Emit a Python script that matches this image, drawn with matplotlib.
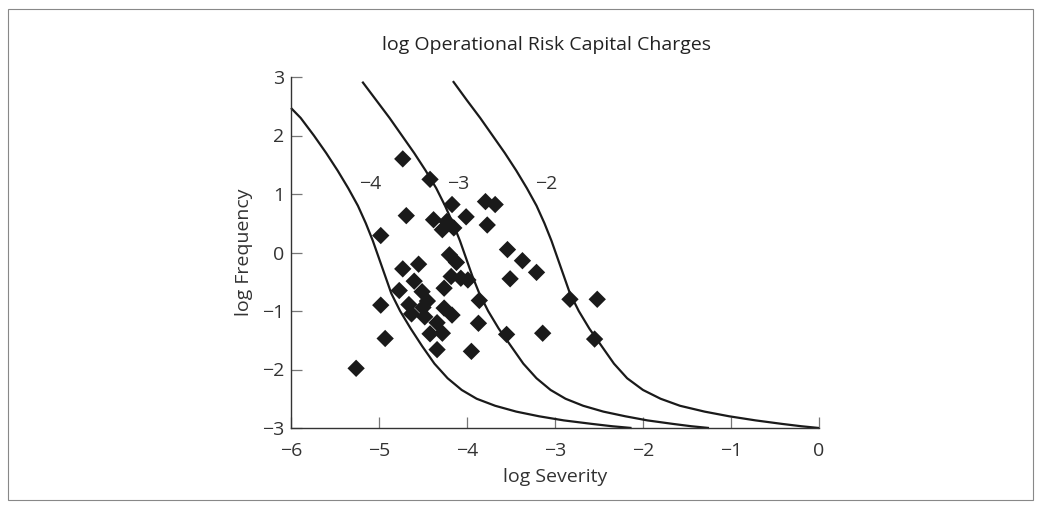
import numpy as np
import matplotlib
matplotlib.use("Agg")
import matplotlib.pyplot as plt
from matplotlib.patches import Rectangle

plt.rcParams['font.family'] = ['Open Sans', 'DejaVu Sans']

# Observed operational loss points (log severity, log frequency)
log_severity = [-4.73, -4.42, -4.17, -3.79, -3.68, -4.69, -4.38, -4.01, -4.23, -4.28,
                -4.15, -3.77, -4.98, -3.54, -3.37, -3.21, -3.51, -4.73, -4.55, -4.20,
                -4.12, -4.18, -4.07, -3.99, -4.26, -4.77, -4.60, -4.51, -4.66, -4.63,
                -4.50, -4.45, -4.48, -3.86, -4.98, -4.26, -4.17, -4.34, -3.87, -4.28,
                -4.42, -4.93, -4.34, -3.95, -3.55, -3.14, -5.26, -2.83, -2.52, -2.55]
log_frequency = [1.60, 1.25, 0.82, 0.87, 0.82, 0.63, 0.56, 0.61, 0.53, 0.39,
                 0.42, 0.47, 0.29, 0.05, -0.14, -0.34, -0.45, -0.28, -0.20, -0.04,
                 -0.17, -0.41, -0.44, -0.47, -0.61, -0.65, -0.49, -0.67, -0.89, -1.05,
                 -0.94, -0.83, -1.10, -0.82, -0.90, -0.95, -1.07, -1.20, -1.21, -1.38,
                 -1.39, -1.47, -1.66, -1.69, -1.40, -1.38, -1.98, -0.80, -0.80, -1.48]

# Iso-capital-charge lines, labelled by log capital charge
charge_levels = ["\u22124", "\u22123", "\u22122"]
curve_y = [2.47, 2.30, 2.00, 1.70, 1.40, 1.10, 0.80, 0.50, 0.20, -0.10, -0.40, -0.70,
           -1.00, -1.30, -1.60, -1.90, -2.15, -2.35, -2.50, -2.62, -2.72, -2.80,
           -2.87, -2.93, -2.97, -3.00]
curve_m4_x = [-6.00, -5.89, -5.74, -5.60, -5.47, -5.35, -5.24, -5.15, -5.07, -5.00,
              -4.93, -4.86, -4.76, -4.64, -4.51, -4.37, -4.22, -4.06, -3.89, -3.68,
              -3.44, -3.18, -2.90, -2.58, -2.35, -2.13]
curve_m3_y = [2.92, 2.60, 2.30, 2.00, 1.70, 1.40, 1.10, 0.80, 0.50, 0.20, -0.10, -0.40,
              -0.70, -1.00, -1.30, -1.60, -1.90, -2.15, -2.35, -2.50, -2.62, -2.72,
              -2.80, -2.87, -2.93, -2.97, -3.00]
curve_m3_x = [-5.19, -5.03, -4.88, -4.74, -4.60, -4.47, -4.35, -4.25, -4.16, -4.08,
              -4.01, -3.94, -3.86, -3.76, -3.64, -3.50, -3.36, -3.21, -3.05, -2.88,
              -2.68, -2.45, -2.20, -1.95, -1.66, -1.45, -1.25]
curve_m2_y = [2.93, 2.60, 2.30, 2.00, 1.70, 1.40, 1.10, 0.80, 0.50, 0.20, -0.10, -0.40,
              -0.70, -1.00, -1.30, -1.60, -1.90, -2.15, -2.35, -2.50, -2.62, -2.72,
              -2.80, -2.87, -2.93, -2.97, -3.00]
curve_m2_x = [-4.16, -4.00, -3.85, -3.71, -3.57, -3.44, -3.32, -3.21, -3.12, -3.04,
              -2.97, -2.90, -2.83, -2.73, -2.61, -2.47, -2.33, -2.18, -2.00, -1.80,
              -1.58, -1.30, -1.02, -0.72, -0.42, -0.20, 0.00]
label_x = [-5.10, -4.10, -3.10]
label_y = [1.17, 1.17, 1.17]

fig = plt.figure(figsize=(10.42, 5.09), dpi=100)
ax = fig.add_axes([291 / 1042, 1 - 428 / 509, 528 / 1042, 351 / 509])

ink = "#1a1a1a"
for cx, cy in [(curve_m4_x, curve_y), (curve_m3_x, curve_m3_y), (curve_m2_x, curve_m2_y)]:
    ax.plot(cx, cy, color=ink, lw=1.6, solid_capstyle="butt", solid_joinstyle="round",
            clip_on=False, zorder=2)

ax.scatter(log_severity, log_frequency, marker="D", s=78, color=ink,
           edgecolors="none", zorder=3, clip_on=False)

for lab, lx, ly in zip(charge_levels, label_x, label_y):
    ax.text(lx, ly, lab, fontsize=14, color="#333333", ha="center", va="center")

ax.set_xlim(-6, 0)
ax.set_ylim(-3, 3)
ax.set_xticks(range(-6, 1))
ax.set_yticks(range(-3, 4))
ax.set_xticklabels([str(v).replace("-", "\u2212") for v in range(-6, 1)])
ax.set_yticklabels([str(v).replace("-", "\u2212") for v in range(-3, 4)])
for side in ["top", "right"]:
    ax.spines[side].set_visible(False)
for side in ["left", "bottom"]:
    ax.spines[side].set_color("#333333")
    ax.spines[side].set_linewidth(1.0)
ax.tick_params(direction="in", length=8, width=0.9, color="#777777",
               labelsize=14, labelcolor="#333333")
ax.tick_params(axis="x", pad=10)
ax.tick_params(axis="y", pad=5)
ax.set_xlabel("log Severity", fontsize=14, color="#333333", labelpad=6)
ax.set_ylabel("log Frequency", fontsize=14, color="#333333", labelpad=6)

fig.text(546 / 1042, 1 - 45 / 509, "log Operational Risk Capital Charges",
         fontsize=14, color="#222222", ha="center", va="center")

# thin frame around the whole figure
fig.patches.append(Rectangle((8 / 1042, 9 / 509), 1025 / 1042, 491 / 509,
                             transform=fig.transFigure, fill=False,
                             edgecolor="#888888", lw=0.8))

fig.savefig("out.png", dpi=100)
